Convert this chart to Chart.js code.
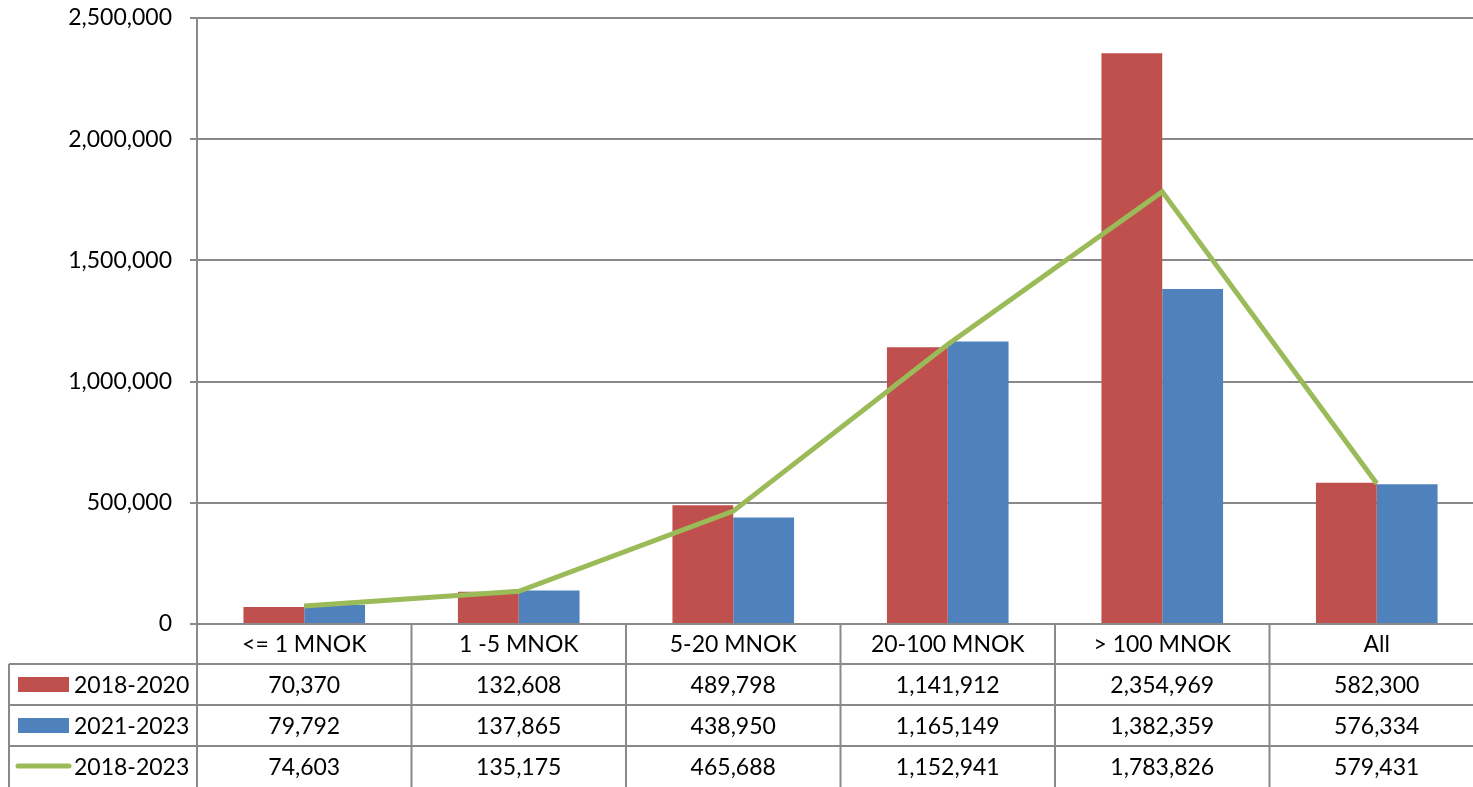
<!DOCTYPE html>
<html>
<head>
<meta charset="utf-8">
<script src="https://cdn.jsdelivr.net/npm/chart.js@4"></script>
<style>
  html, body { margin: 0; padding: 0; background: #fff; overflow: hidden; }
  #wrap { width: 1487px; height: 787px; position: relative; }
</style>
</head>
<body>
<div id="wrap"><canvas id="myChart"></canvas></div>
<script>
// categories and series (from the data table under the chart)
const categories = ['<= 1 MNOK', '1 -5 MNOK', '5-20 MNOK', '20-100 MNOK', '> 100 MNOK', 'All'];
const s2018_2020 = [70370, 132608, 489798, 1141912, 2354969, 582300];
const s2021_2023 = [79792, 137865, 438950, 1165149, 1382359, 576334];
const s2018_2023 = [74603, 135175, 465688, 1152941, 1783826, 579431];
const seriesNames = ['2018-2020', '2021-2023', '2018-2023'];
const yTicks = [0, 500000, 1000000, 1500000, 2000000, 2500000];

const FONT = 'Lato, "Open Sans", sans-serif';
const gridColor = '#898989';
const red = '#C0504D', blue = '#4F81BD', green = '#9BBB59';

const fmt = v => v.toLocaleString('en-US');

// draws the data table below the plot using the x scale
const dataTable = {
    id: 'dataTable',
    afterDraw(chart) {
        const ctx = chart.ctx;
        const area = chart.chartArea;
        const n = categories.length;
        const w = (area.right - area.left) / n;
        const top = area.bottom;
        const rowH = 41;
        const rows = [top, top + 40, top + 40 + rowH, top + 40 + 2 * rowH, top + 40 + 3 * rowH];
        const legendLeft = 9;
        ctx.save();
        ctx.strokeStyle = gridColor;
        ctx.lineWidth = 2;
        ctx.beginPath();
        for (let i = 0; i <= n; i++) {
            const x = area.left + i * w;
            ctx.moveTo(x, top); ctx.lineTo(x, rows[4] + 2);
        }
        for (let r = 1; r < 4; r++) {
            ctx.moveTo(legendLeft, rows[r]); ctx.lineTo(area.right, rows[r]);
        }
        ctx.moveTo(legendLeft, rows[1]); ctx.lineTo(legendLeft, rows[4] + 2);
        ctx.stroke();

        ctx.fillStyle = '#000';
        ctx.font = '23px ' + FONT;
        ctx.textAlign = 'center';
        ctx.textBaseline = 'middle';
        const data = [s2018_2020, s2021_2023, s2018_2023];
        categories.forEach((c, i) => {
            const cx = chart.scales.x.getPixelForValue(i);
            ctx.fillText(c, cx, (rows[0] + rows[1]) / 2 + 1);
            data.forEach((d, r) => {
                ctx.fillText(fmt(d[i]), cx, (rows[r + 1] + rows[r + 2]) / 2 + 1);
            });
        });

        // legend keys
        ctx.textAlign = 'left';
        ctx.fillStyle = red;
        ctx.fillRect(18, rows[1] + 13, 51, 15);
        ctx.fillStyle = blue;
        ctx.fillRect(18, rows[2] + 13, 51, 15);
        ctx.strokeStyle = green;
        ctx.lineWidth = 5;
        ctx.lineCap = 'round';
        ctx.beginPath();
        ctx.moveTo(18, rows[3] + 20); ctx.lineTo(69, rows[3] + 20);
        ctx.stroke();
        ctx.fillStyle = '#000';
        seriesNames.forEach((s, r) => {
            ctx.fillText(s, 74, (rows[r + 1] + rows[r + 2]) / 2 + 1);
        });
        ctx.restore();
    }
};

new Chart(document.getElementById('myChart').getContext('2d'), {
    type: 'bar',
    data: {
        labels: categories,
        datasets: [
            {
                type: 'line', label: seriesNames[2], data: s2018_2023,
                borderColor: green, borderWidth: 5, pointRadius: 0,
                tension: 0, order: 0
            },
            {
                label: seriesNames[0], data: s2018_2020, backgroundColor: red,
                barPercentage: 1, categoryPercentage: 0.567, order: 1
            },
            {
                label: seriesNames[1], data: s2021_2023, backgroundColor: blue,
                barPercentage: 1, categoryPercentage: 0.567, order: 1
            }
        ]
    },
    options: {
        responsive: true,
        maintainAspectRatio: false,
        animation: false,
        layout: { padding: { top: 18, right: 3, bottom: 163, left: 0 } },
        plugins: { legend: { display: false }, tooltip: { enabled: false } },
        scales: {
            x: { display: false, offset: true },
            y: {
                min: 0, max: 2500000,
                afterFit: s => { s.width = 197; s.paddingTop = 0; s.paddingBottom = 0; },
                afterBuildTicks: s => { s.ticks = yTicks.map(v => ({ value: v })); },
                ticks: {
                    color: '#000', padding: 18,
                    font: { family: FONT, size: 23 },
                    callback: v => fmt(v)
                },
                grid: { color: gridColor, lineWidth: 2, tickLength: 7 },
                border: { color: gridColor, width: 2 }
            }
        }
    },
    plugins: [dataTable]
});
</script>
</body>
</html>
